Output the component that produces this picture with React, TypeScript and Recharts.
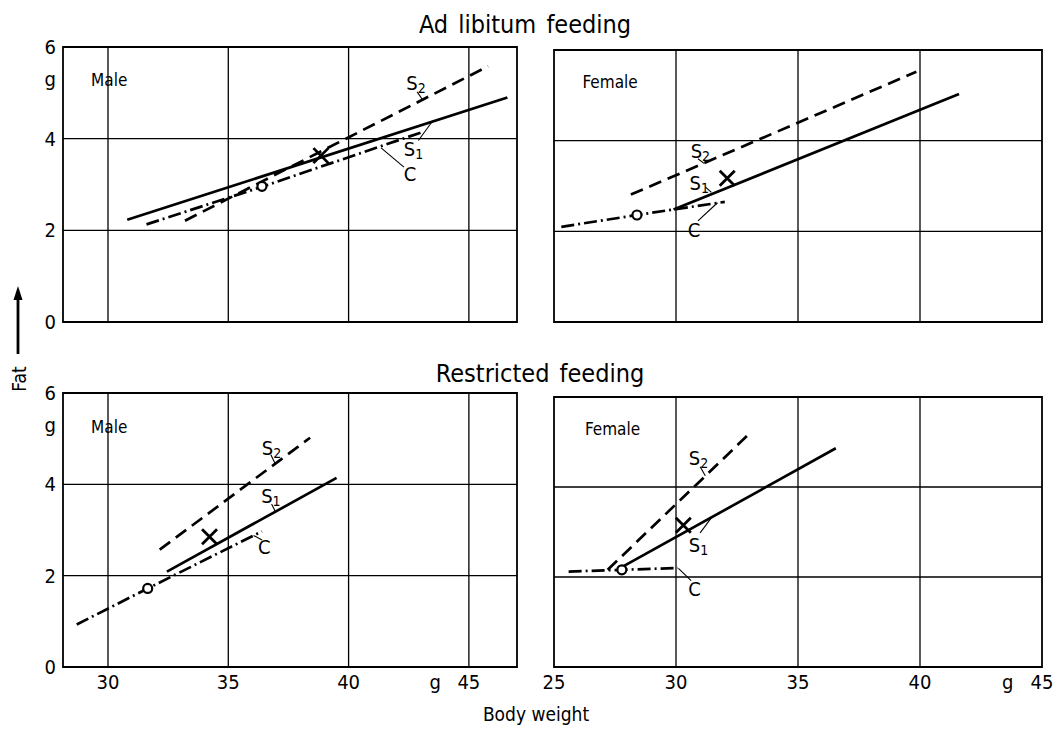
import React from 'react';
import { ComposedChart, Line, Scatter, XAxis, YAxis, ReferenceLine, ReferenceArea } from 'recharts';

const FONT = '"DejaVu Sans Condensed", "Liberation Sans Narrow", "DejaVu Sans", sans-serif';

type Pt = { x: number; y: number };
type Note = { x: number; y: number; text: string; sub?: string; size?: number };

// axes
const fatDomain: [number, number] = [0, 6];
const fatTicks = [0, 2, 4, 5.3, 6];
const fatGrid = [2, 4];
const fatUnitAt = 5.3;
const weightUnitAt = 43.6;
const maleDomain: [number, number] = [28.13, 47];
const femaleDomain: [number, number] = [25, 45];
const maleTicks = [30, 35, 40, 43.6, 45];
const femaleTicks = [25, 30, 35, 40, 43.6, 45];
const maleGrid = [30, 35, 40, 45];
const femaleGrid = [30, 35, 40];

// ad libitum feeding, male
const adMaleS1: Pt[] = [{ x: 30.8, y: 2.23 }, { x: 46.6, y: 4.9 }];
const adMaleS2: Pt[] = [{ x: 33.2, y: 2.21 }, { x: 45.8, y: 5.58 }];
const adMaleC: Pt[] = [{ x: 31.6, y: 2.13 }, { x: 36.4, y: 2.95 }, { x: 43.1, y: 4.15 }];
const adMaleCircle: Pt[] = [{ x: 36.4, y: 2.96 }];
const adMaleCross: Pt[] = [{ x: 38.85, y: 3.63 }];
const adMaleNotes: Note[] = [
  { x: 30.05, y: 5.27, text: 'Male', size: 17 },
  { x: 42.8, y: 5.22, text: 'S', sub: '2' },
  { x: 42.7, y: 3.78, text: 'S', sub: '1' },
  { x: 42.55, y: 3.22, text: 'C' },
];
const adMaleLeaders: Pt[][] = [
  [{ x: 42.85, y: 5.02 }, { x: 43.06, y: 4.86 }],
  [{ x: 42.9, y: 3.96 }, { x: 43.5, y: 4.39 }],
  [{ x: 42.3, y: 3.38 }, { x: 41.35, y: 3.8 }],
];

// ad libitum feeding, female
const adFemaleS1: Pt[] = [{ x: 29.9, y: 2.48 }, { x: 41.6, y: 5.03 }];
const adFemaleS2: Pt[] = [{ x: 28.15, y: 2.81 }, { x: 39.85, y: 5.52 }];
const adFemaleC: Pt[] = [{ x: 25.3, y: 2.1 }, { x: 28.4, y: 2.36 }, { x: 30, y: 2.49 }, { x: 32.0, y: 2.65 }];
const adFemaleCircle: Pt[] = [{ x: 28.4, y: 2.36 }];
const adFemaleCross: Pt[] = [{ x: 32.1, y: 3.17 }];
const adFemaleNotes: Note[] = [
  { x: 27.3, y: 5.3, text: 'Female', size: 17 },
  { x: 31.0, y: 3.77, text: 'S', sub: '2' },
  { x: 30.95, y: 3.06, text: 'S', sub: '1' },
  { x: 30.74, y: 2.04, text: 'C' },
];
const adFemaleLeaders: Pt[][] = [
  [{ x: 30.9, y: 3.6 }, { x: 31.15, y: 3.5 }],
  [{ x: 31.2, y: 2.98 }, { x: 31.45, y: 2.86 }],
  [{ x: 30.9, y: 2.23 }, { x: 31.7, y: 2.63 }],
];

// restricted feeding, male
const reMaleS1: Pt[] = [{ x: 32.45, y: 2.09 }, { x: 39.5, y: 4.14 }];
const reMaleS2: Pt[] = [{ x: 32.15, y: 2.57 }, { x: 38.4, y: 5.02 }];
const reMaleC: Pt[] = [{ x: 28.7, y: 0.93 }, { x: 31.65, y: 1.72 }, { x: 36.4, y: 2.97 }];
const reMaleCircle: Pt[] = [{ x: 31.65, y: 1.72 }];
const reMaleCross: Pt[] = [{ x: 34.22, y: 2.85 }];
const reMaleNotes: Note[] = [
  { x: 30.05, y: 5.26, text: 'Male', size: 17 },
  { x: 36.8, y: 4.8, text: 'S', sub: '2' },
  { x: 36.77, y: 3.75, text: 'S', sub: '1' },
  { x: 36.5, y: 2.63, text: 'C' },
];
const reMaleLeaders: Pt[][] = [
  [{ x: 36.77, y: 4.65 }, { x: 36.95, y: 4.45 }],
  [{ x: 36.8, y: 3.57 }, { x: 36.95, y: 3.41 }],
  [{ x: 36.4, y: 2.78 }, { x: 36.05, y: 2.88 }],
];

// restricted feeding, female
const reFemaleS1: Pt[] = [{ x: 27.65, y: 2.18 }, { x: 36.55, y: 4.86 }];
const reFemaleS2: Pt[] = [{ x: 27.2, y: 2.16 }, { x: 32.92, y: 5.14 }];
const reFemaleC: Pt[] = [{ x: 25.6, y: 2.12 }, { x: 27.78, y: 2.16 }, { x: 30.08, y: 2.2 }];
const reFemaleCircle: Pt[] = [{ x: 27.78, y: 2.16 }];
const reFemaleCross: Pt[] = [{ x: 30.3, y: 3.15 }];
const reFemaleNotes: Note[] = [
  { x: 27.4, y: 5.29, text: 'Female', size: 17 },
  { x: 30.92, y: 4.64, text: 'S', sub: '2' },
  { x: 30.92, y: 2.72, text: 'S', sub: '1' },
  { x: 30.76, y: 1.74, text: 'C' },
];
const reFemaleLeaders: Pt[][] = [
  [{ x: 30.99, y: 4.45 }, { x: 31.2, y: 4.25 }],
  [{ x: 30.99, y: 2.98 }, { x: 31.47, y: 3.33 }],
  [{ x: 30.62, y: 1.92 }, { x: 30.1, y: 2.19 }],
];

const Y_W = 25;
const X_H = 40;
const tickStyle = { fill: '#000', fontSize: 20, fontFamily: FONT };

const fmtX = (v: number) => (v === weightUnitAt ? 'g' : String(v));
const fmtY = (v: number) => (v === fatUnitAt ? 'g' : String(v));

const OpenCircle = (p: any) => (
  <circle cx={p.cx} cy={p.cy} r={4.5} fill="#fff" stroke="#000" strokeWidth={2.2} />
);

const Cross = (p: any) => (
  <path
    d={`M${p.cx - 7.5},${p.cy - 7.5}L${p.cx + 7.5},${p.cy + 7.5}M${p.cx - 7.5},${p.cy + 7.5}L${p.cx + 7.5},${p.cy - 7.5}`}
    stroke="#000"
    strokeWidth={2.8}
    fill="none"
  />
);

const NoteText = (p: any) => {
  const n: Note = p.payload;
  return (
    <text
      x={p.cx}
      y={p.cy}
      textAnchor="middle"
      dominantBaseline="central"
      fontFamily={FONT}
      fontSize={n.size ?? 20}
      fill="#000"
    >
      {n.text}
      {n.sub && (
        <tspan fontSize={14} dy={5} fill="#000">
          {n.sub}
        </tspan>
      )}
    </text>
  );
};

interface PanelProps {
  left: number;
  top: number;
  width: number;
  height: number;
  plot: { left: number; top: number; right: number; bottom: number };
  domain: [number, number];
  ticks: number[];
  grid: number[];
  s1: Pt[];
  s2: Pt[];
  c: Pt[];
  circle: Pt[];
  cross: Pt[];
  notes: Note[];
  leaders: Pt[][];
  showY: boolean;
  showX: boolean;
}

function Panel(props: PanelProps) {
  const { left, top, width, height, plot, domain, ticks, grid, showX, showY } = props;
  const margin = {
    top: plot.top,
    left: showY ? plot.left - Y_W : plot.left,
    right: width - plot.right,
    bottom: height - plot.bottom - (showX ? X_H : 0),
  };
  return (
    <div style={{ position: 'absolute', left, top }}>
      <ComposedChart width={width} height={height} margin={margin}>
        <XAxis
          type="number"
          dataKey="x"
          domain={domain}
          allowDataOverflow
          ticks={ticks}
          interval={0}
          hide={!showX}
          height={X_H}
          axisLine={false}
          tickSize={0}
          tickMargin={8}
          tick={tickStyle}
          tickFormatter={fmtX}
        />
        <YAxis
          type="number"
          domain={fatDomain}
          allowDataOverflow
          ticks={fatTicks}
          interval={0}
          hide={!showY}
          width={Y_W}
          axisLine={false}
          tickSize={0}
          tickMargin={7}
          tick={tickStyle}
          tickFormatter={fmtY}
        />
        {grid.map((v) => (
          <ReferenceLine key={'gx' + v} x={v} stroke="#000" strokeWidth={1.3} />
        ))}
        {fatGrid.map((v) => (
          <ReferenceLine key={'gy' + v} y={v} stroke="#000" strokeWidth={1.3} />
        ))}
        <ReferenceArea x1={domain[0]} x2={domain[1]} y1={0} y2={6} fill="none" stroke="#000" strokeWidth={1.8} />
        {props.leaders.map((seg, i) => (
          <ReferenceLine key={'ld' + i} segment={seg} stroke="#000" strokeWidth={1.1} />
        ))}
        <Line data={props.s1} dataKey="y" stroke="#000" strokeWidth={2.7} dot={false} isAnimationActive={false} />
        <Line data={props.s2} dataKey="y" stroke="#000" strokeWidth={2.7} strokeDasharray="13 7" dot={false} isAnimationActive={false} />
        <Line data={props.c} dataKey="y" stroke="#000" strokeWidth={2.7} strokeDasharray="13 4 2 4" dot={false} isAnimationActive={false} />
        <Scatter data={props.circle} dataKey="y" shape={OpenCircle} isAnimationActive={false} />
        <Scatter data={props.cross} dataKey="y" shape={Cross} isAnimationActive={false} />
        <Scatter data={props.notes} dataKey="y" shape={NoteText} isAnimationActive={false} />
      </ComposedChart>
    </div>
  );
}

const titleStyle: React.CSSProperties = {
  position: 'absolute',
  width: 400,
  textAlign: 'center',
  fontFamily: FONT,
  fontSize: 25,
  lineHeight: '25px',
  wordSpacing: 3,
  color: '#000',
};

export default function App() {
  return (
    <div style={{ position: 'absolute', left: 0, top: 0, width: 1063, height: 734, background: '#fff', fontFamily: FONT }}>
      <div style={{ ...titleStyle, left: 525 - 200, top: 12 }}>Ad libitum feeding</div>
      <div style={{ ...titleStyle, left: 540 - 200, top: 361 }}>Restricted feeding</div>

      <Panel
        left={0} top={0} width={540} height={340}
        plot={{ left: 63, top: 47, right: 517, bottom: 322 }}
        domain={maleDomain} ticks={maleTicks} grid={maleGrid}
        s1={adMaleS1} s2={adMaleS2} c={adMaleC} circle={adMaleCircle} cross={adMaleCross}
        notes={adMaleNotes} leaders={adMaleLeaders} showY showX={false}
      />
      <Panel
        left={540} top={0} width={523} height={340}
        plot={{ left: 14, top: 50, right: 502, bottom: 322 }}
        domain={femaleDomain} ticks={femaleTicks} grid={femaleGrid}
        s1={adFemaleS1} s2={adFemaleS2} c={adFemaleC} circle={adFemaleCircle} cross={adFemaleCross}
        notes={adFemaleNotes} leaders={adFemaleLeaders} showY={false} showX={false}
      />
      <Panel
        left={0} top={346} width={540} height={388}
        plot={{ left: 63, top: 47, right: 517, bottom: 321 }}
        domain={maleDomain} ticks={maleTicks} grid={maleGrid}
        s1={reMaleS1} s2={reMaleS2} c={reMaleC} circle={reMaleCircle} cross={reMaleCross}
        notes={reMaleNotes} leaders={reMaleLeaders} showY showX
      />
      <Panel
        left={540} top={346} width={523} height={388}
        plot={{ left: 14, top: 51, right: 502, bottom: 321 }}
        domain={femaleDomain} ticks={femaleTicks} grid={femaleGrid}
        s1={reFemaleS1} s2={reFemaleS2} c={reFemaleC} circle={reFemaleCircle} cross={reFemaleCross}
        notes={reFemaleNotes} leaders={reFemaleLeaders} showY={false} showX
      />

      <svg style={{ position: 'absolute', left: 0, top: 0 }} width={40} height={734}>
        <line x1={18} y1={354} x2={18} y2={298} stroke="#000" strokeWidth={2.8} />
        <path d="M18,286 L13.5,300 L22.5,300 Z" fill="#000" />
        <text
          x={19}
          y={379}
          transform="rotate(-90 19 379)"
          textAnchor="middle"
          dominantBaseline="central"
          fontFamily={FONT}
          fontSize={19}
          fill="#000"
        >
          Fat
        </text>
      </svg>

      <div style={{ position: 'absolute', left: 536 - 100, top: 704, width: 200, textAlign: 'center', fontFamily: FONT, fontSize: 19, lineHeight: '20px', color: '#000' }}>
        Body weight
      </div>
    </div>
  );
}
